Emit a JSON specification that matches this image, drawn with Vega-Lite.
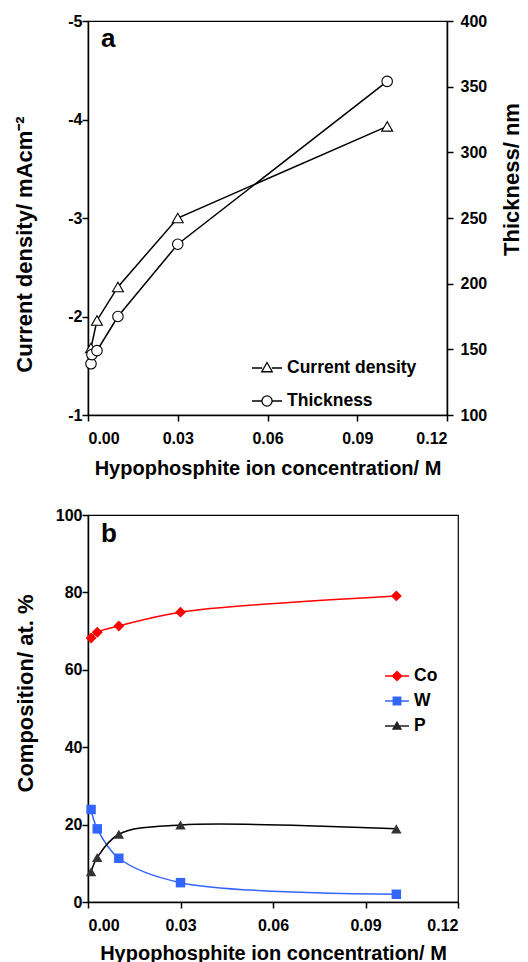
{
  "$schema": "https://vega.github.io/schema/vega-lite/v6.json",
  "background": "white",
  "padding": {"left": 13, "top": 12, "right": 1, "bottom": 1},
  "spacing": 27,
  "config": {
    "font": "Liberation Sans",
    "view": {"stroke": "black", "strokeWidth": 1.2},
    "axis": {
      "domainColor": "black", "domainWidth": 1.5, "tickColor": "black", "tickWidth": 1.5, "tickSize": 6,
      "labelFont": "Liberation Sans", "labelFontSize": 16, "labelFontWeight": "bold", "labelColor": "black",
      "titleFont": "Liberation Sans", "titleFontSize": 20, "titleFontWeight": "bold", "titleColor": "black",
      "grid": false
    },
    "legend": {"labelFont": "Liberation Sans", "labelFontSize": 17.5, "labelFontWeight": "bold", "labelColor": "black"}
  },
  "datasets": {
    "a": [
      {"conc": 0.001, "value": -1.68, "series": "Current density"},
      {"conc": 0.003, "value": -1.96, "series": "Current density"},
      {"conc": 0.01, "value": -2.3, "series": "Current density"},
      {"conc": 0.03, "value": -3.0, "series": "Current density"},
      {"conc": 0.1, "value": -3.93, "series": "Current density"},
      {"conc": 0.001, "value": 139, "series": "Thickness"},
      {"conc": 0.0013, "value": 146, "series": "Thickness"},
      {"conc": 0.003, "value": 149, "series": "Thickness"},
      {"conc": 0.01, "value": 175, "series": "Thickness"},
      {"conc": 0.03, "value": 230, "series": "Thickness"},
      {"conc": 0.1, "value": 354, "series": "Thickness"}
    ],
    "b": [
      {"conc": 0.001, "value": 68.2, "series": "Co"},
      {"conc": 0.003, "value": 69.7, "series": "Co"},
      {"conc": 0.01, "value": 71.3, "series": "Co"},
      {"conc": 0.03, "value": 74.9, "series": "Co"},
      {"conc": 0.1, "value": 79.1, "series": "Co"},
      {"conc": 0.001, "value": 23.9, "series": "W"},
      {"conc": 0.003, "value": 18.9, "series": "W"},
      {"conc": 0.01, "value": 11.3, "series": "W"},
      {"conc": 0.03, "value": 5.0, "series": "W"},
      {"conc": 0.1, "value": 2.0, "series": "W"},
      {"conc": 0.001, "value": 7.8, "series": "P"},
      {"conc": 0.003, "value": 11.5, "series": "P"},
      {"conc": 0.01, "value": 17.5, "series": "P"},
      {"conc": 0.03, "value": 19.9, "series": "P"},
      {"conc": 0.1, "value": 18.9, "series": "P"}
    ]
  },
  "resolve": {"scale": {"shape": "independent", "fill": "independent", "stroke": "independent", "color": "independent"}},
  "vconcat": [
    {
      "width": 359,
      "height": 394,
      "title": {"text": "a", "anchor": "start", "frame": "group", "offset": -26, "dx": 13, "dy": 13, "fontSize": 26, "fontWeight": "bold", "color": "black", "font": "Liberation Sans"},
      "data": {"name": "a"},
      "layer": [
        {
          "transform": [{"filter": "datum.series === 'Current density'"}],
          "mark": {"type": "line", "color": "black", "strokeWidth": 1.5,
                   "point": {"shape": "triangle-up", "filled": true, "fill": "white", "stroke": "black", "strokeWidth": 1.1, "size": 120}},
          "encoding": {
            "x": {"field": "conc", "type": "quantitative", "scale": {"domain": [0, 0.12]},
                  "axis": {"values": [0, 0.03, 0.06, 0.09, 0.12], "labelExpr": "abs(datum.value) < 1e-9 ? '0.00' : format(datum.value, '.2f')", "title": "Hypophosphite ion concentration/ M", "labelPadding": 9, "titlePadding": 12}},
            "y": {"field": "value", "type": "quantitative", "scale": {"domain": [-5, -1], "reverse": true},
                  "axis": {"values": [-5, -4, -3, -2, -1], "labelExpr": "'-' + format(abs(datum.value), 'd')", "title": "Current density/ mAcm⁻²", "titleFontSize": 22, "titleY": 223, "labelPadding": 0, "titlePadding": 31}}
          }
        },
        {
          "transform": [{"filter": "datum.series === 'Thickness'"}],
          "mark": {"type": "line", "color": "black", "strokeWidth": 1.5,
                   "point": {"shape": "circle", "filled": true, "fill": "white", "stroke": "black", "strokeWidth": 1.1, "size": 110}},
          "encoding": {
            "x": {"field": "conc", "type": "quantitative", "scale": {"domain": [0, 0.12]}},
            "y": {"field": "value", "type": "quantitative", "scale": {"domain": [100, 400]},
                  "axis": {"orient": "right", "values": [100, 150, 200, 250, 300, 350, 400], "title": "Thickness/ nm", "titleAngle": -90, "titleFontSize": 22, "titleY": 158, "labelPadding": 7, "titlePadding": 37}}
          }
        },
        {
          "mark": {"type": "point", "opacity": 0, "size": 900, "filled": true},
          "encoding": {
            "shape": {"field": "series", "type": "nominal",
                      "scale": {"domain": ["Current density", "Thickness"],
                                "range": ["M-1,0H-0.32M0.32,0H1M0,-0.37L0.35,0.25L-0.35,0.25Z", "M-1,0H-0.34M0.34,0H1M0.34,0A0.34,0.34,0,1,1,-0.34,0A0.34,0.34,0,1,1,0.34,0Z"]},
                      "legend": {"orient": "none", "legendX": 163, "legendY": 331, "title": null, "symbolSize": 900, "labelOffset": 4, "rowPadding": 8, "symbolStrokeWidth": 1.3}},
            "fill": {"field": "series", "type": "nominal",
                     "scale": {"domain": ["Current density", "Thickness"], "range": ["white", "white"]},
                     "legend": {"orient": "none", "legendX": 163, "legendY": 331, "title": null, "symbolSize": 900, "labelOffset": 4, "rowPadding": 8, "symbolStrokeWidth": 1.3}},
            "stroke": {"field": "series", "type": "nominal",
                       "scale": {"domain": ["Current density", "Thickness"], "range": ["black", "black"]},
                       "legend": {"orient": "none", "legendX": 163, "legendY": 331, "title": null, "symbolSize": 900, "labelOffset": 4, "rowPadding": 8, "symbolStrokeWidth": 1.3}}
          }
        }
      ],
      "resolve": {"scale": {"y": "independent"}}
    },
    {
      "width": 370,
      "height": 387,
      "title": {"text": "b", "anchor": "start", "frame": "group", "offset": -29, "dx": 13, "dy": 11, "fontSize": 26, "fontWeight": "bold", "color": "black", "font": "Liberation Sans"},
      "data": {"name": "b"},
      "encoding": {
        "x": {"field": "conc", "type": "quantitative", "scale": {"domain": [0, 0.12]},
              "axis": {"values": [0, 0.03, 0.06, 0.09, 0.12], "labelExpr": "abs(datum.value) < 1e-9 ? '0.00' : format(datum.value, '.2f')", "title": "Hypophosphite ion concentration/ M", "labelPadding": 9, "titlePadding": 10}},
        "y": {"field": "value", "type": "quantitative", "scale": {"domain": [0, 100]},
              "axis": {"values": [0, 20, 40, 60, 80, 100], "title": "Composition/ at. %", "titleFontSize": 22, "titleY": 178, "labelPadding": 0, "titlePadding": 18}}
      },
      "layer": [
        {
          "transform": [{"filter": "datum.series === 'Co'"}],
          "mark": {"type": "line", "color": "#ff0000", "strokeWidth": 1.5, "interpolate": "catmull-rom",
                   "point": {"shape": "diamond", "filled": true, "color": "#ff0000", "size": 120}}
        },
        {
          "transform": [{"filter": "datum.series === 'W'"}],
          "mark": {"type": "line", "color": "#3366ff", "strokeWidth": 1.5, "interpolate": "catmull-rom",
                   "point": {"shape": "square", "filled": true, "color": "#3366ff", "size": 90}}
        },
        {
          "transform": [{"filter": "datum.series === 'P'"}],
          "mark": {"type": "line", "color": "black", "strokeWidth": 1.5, "interpolate": "catmull-rom",
                   "point": {"shape": "triangle-up", "filled": true, "color": "#333333", "size": 110}}
        },
        {
          "mark": {"type": "point", "opacity": 0, "size": 576, "filled": true},
          "encoding": {
            "x": null,
            "y": null,
            "shape": {"field": "series", "type": "nominal",
                      "scale": {"domain": ["Co", "W", "P"],
                                "range": ["M-1,-0.06H1V0.06H-1ZM0,-0.46L0.46,0L0,0.46L-0.46,0Z", "M-1,-0.06H1V0.06H-1ZM-0.37,-0.37H0.37V0.37H-0.37Z", "M-1,-0.06H1V0.06H-1ZM0,-0.43L0.43,0.31L-0.43,0.31Z"]},
                      "legend": {"orient": "none", "legendX": 296, "legendY": 148, "title": null, "symbolSize": 576, "labelOffset": 4, "rowPadding": 3,
                                 "encode": {"symbols": {"update": {"opacity": {"value": 1}, "fillOpacity": {"value": 1}, "stroke": {"value": "transparent"}}}}}},
            "color": {"field": "series", "type": "nominal",
                      "scale": {"domain": ["Co", "W", "P"], "range": ["#ff0000", "#3366ff", "#222222"]},
                      "legend": {"orient": "none", "legendX": 296, "legendY": 148, "title": null, "symbolSize": 576, "labelOffset": 4, "rowPadding": 3,
                                 "encode": {"symbols": {"update": {"opacity": {"value": 1}, "fillOpacity": {"value": 1}, "stroke": {"value": "transparent"}}}}}}
          }
        }
      ]
    }
  ]
}
